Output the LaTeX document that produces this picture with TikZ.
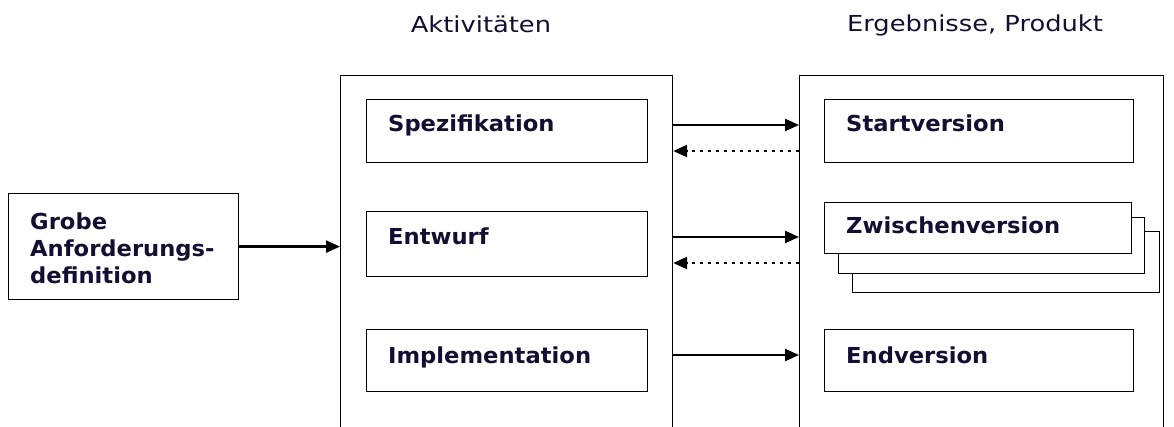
\documentclass[tikz,border=0pt]{standalone}
\usepackage{fontspec}
\setmainfont{DejaVu Sans}
\newfontfamily\titlefont[FakeStretch=1.17]{DejaVu Sans}
\newfontfamily\labelfont[FakeStretch=1.03]{DejaVu Sans Bold}
\usetikzlibrary{arrows.meta}
\definecolor{txt}{RGB}{20,15,50}
\begin{document}
\begin{tikzpicture}[x=1pt,y=-1pt,
  box/.style={draw=black,line width=1.2pt,fill=white,inner sep=0pt},
  lbl/.style={font=\labelfont\fontsize{22}{27}\selectfont,anchor=base west,inner sep=0pt,text=txt},
  ttl/.style={font=\titlefont\fontsize{22}{27}\selectfont,anchor=base,inner sep=0pt,text=txt},
  arr/.style={line width=2.4pt,-{Triangle[length=14pt,width=12pt]}},
  darr/.style={line width=2.6pt,dash pattern=on 2.6pt off 5.4pt,-{Triangle[length=14pt,width=12pt]}}]
\useasboundingbox (0,0) rectangle (1174,427);
% outer frames (open to the bottom edge)
\node[box,minimum width=332pt,minimum height=370pt,anchor=north west,fill=none] (akt) at (340,75) {};
\node[box,minimum width=364pt,minimum height=370pt,anchor=north west,fill=none] (erg) at (799,75) {};
\node[ttl] (takt) at (481,33) {Aktivitäten};
\node[ttl] (terg) at (975,32) {Ergebnisse, Produkt};
% left box
\node[box,minimum width=230pt,minimum height=106pt,anchor=north west] (grob) at (8,193) {};
\node[lbl,anchor=west,align=left] (grobt) at (30,248) {Grobe\\Anforderungs-\\definition};
% activity boxes
\node[box,minimum width=281pt,minimum height=63pt,anchor=north west] (spez) at (366,99) {};
\node[lbl] (spezt) at (388,132) {Spezifikation};
\node[box,minimum width=281pt,minimum height=65pt,anchor=north west] (entw) at (366,211) {};
\node[lbl] (entwt) at (388,245) {Entwurf};
\node[box,minimum width=281pt,minimum height=62pt,anchor=north west] (impl) at (366,329) {};
\node[lbl] (implt) at (388,363) {Implementation};
% result boxes
\node[box,minimum width=309pt,minimum height=63pt,anchor=north west] (start) at (824,99) {};
\node[lbl] (startt) at (846,132) {Startversion};
\node[box,minimum width=307pt,minimum height=61pt,anchor=north west] (zw3) at (852,231) {};
\node[box,minimum width=306pt,minimum height=56pt,anchor=north west] (zw2) at (838,217) {};
\node[box,minimum width=307pt,minimum height=51pt,anchor=north west] (zw1) at (824,202) {};
\node[lbl] (zwt) at (846,234) {Zwischenversion};
\node[box,minimum width=309pt,minimum height=62pt,anchor=north west] (endv) at (824,329) {};
\node[lbl] (endt) at (846,363) {Endversion};
% connectors
\coordinate (g1) at (grob.east);
\draw[arr] (g1) -- (akt.west |- g1);
\draw[arr] (akt.east |- 0,125) -- (erg.west |- 0,125);
\draw[darr] (erg.west |- 0,151) -- (akt.east |- 0,151);
\draw[arr] (akt.east |- 0,237) -- (erg.west |- 0,237);
\draw[darr] (erg.west |- 0,263) -- (akt.east |- 0,263);
\draw[arr] (akt.east |- 0,355) -- (erg.west |- 0,355);
\end{tikzpicture}
\end{document}
